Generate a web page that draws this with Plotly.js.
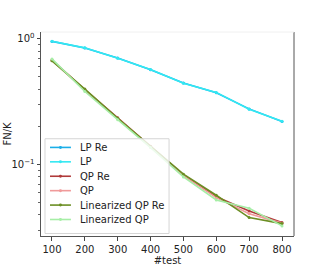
<!DOCTYPE html>
<html>
<head>
<meta charset="utf-8">
<script src="https://cdn.plot.ly/plotly-3.0.1.min.js"></script>
<style>html,body{margin:0;padding:0;background:#fff;}#chart{width:327px;height:266px;}</style>
</head>
<body>
<div id="chart"></div>
<script>
const tests = [100, 200, 300, 400, 500, 600, 700, 800];
const lpRe = [0.957, 0.848, 0.706, 0.570, 0.447, 0.373, 0.278, 0.221];
const lp = [0.960, 0.850, 0.702, 0.573, 0.445, 0.376, 0.276, 0.222];
const qpRe = [0.680, 0.396, 0.236, 0.140, 0.083, 0.0557, 0.0428, 0.0347];
const qp = [0.675, 0.392, 0.232, 0.138, 0.082, 0.0547, 0.0408, 0.0343];
const linQpRe = [0.670, 0.400, 0.234, 0.139, 0.084, 0.0572, 0.0380, 0.0340];
const linQp = [0.694, 0.382, 0.228, 0.137, 0.080, 0.0524, 0.0450, 0.0326];

const seriesNames = ["LP Re", "LP", "QP Re", "QP", "Linearized QP Re", "Linearized QP"];
const seriesData = [lpRe, lp, qpRe, qp, linQpRe, linQp];
const seriesColors = ["#1aaee8", "#33e8f2", "#b03a3a", "#f09a9a", "#6b8e23", "#a6eea6"];

const yMajor = [0.1, 1];
const yMajorText = ["10<sup>−1</sup>", "10<sup>0</sup>"];
const yMinor = [0.03, 0.04, 0.05, 0.06, 0.07, 0.08, 0.09, 0.2, 0.3, 0.4, 0.5, 0.6, 0.7, 0.8, 0.9];

const W = 327, H = 266;
const M = {l: 41, r: 32.5, t: 32, b: 29.5};
const PW = W - M.l - M.r, PH = H - M.t - M.b;
const px = x => (x - M.l) / PW;
const py = y => (H - M.b - y) / PH;

const traces = seriesNames.map((n, i) => ({
  type: "scatter", mode: "lines+markers", name: n,
  x: tests, y: seriesData[i], showlegend: false,
  line: {color: seriesColors[i], width: 1.6},
  marker: {color: seriesColors[i], size: 3}
}));

const font = {family: "DejaVu Sans", size: 10, color: "#222"};

// hand-built legend (matplotlib-like compact rows)
const shapes = [
  {type: "line", xref: "paper", yref: "paper", x0: 1, x1: 1, y0: 0, y1: 1, line: {color: "#555", width: 1}},
  {type: "line", xref: "paper", yref: "paper", x0: 0, x1: 1, y0: 1, y1: 1, line: {color: "#f0f0f0", width: 1}},
  {type: "rect", xref: "paper", yref: "paper", x0: px(45), x1: px(169.3), y0: py(234), y1: py(139),
   fillcolor: "rgba(255,255,255,0.8)", line: {color: "#d6d6d6", width: 1}}
];
const annotations = [];
seriesNames.forEach((n, i) => {
  const yy = 147.7 + i * 14.45;
  shapes.push({type: "line", xref: "paper", yref: "paper", x0: px(50), x1: px(71), y0: py(yy), y1: py(yy),
    line: {color: seriesColors[i], width: 1.6}});
  shapes.push({type: "circle", xref: "paper", yref: "paper", x0: px(59), x1: px(62), y0: py(yy + 1.5), y1: py(yy - 1.5),
    fillcolor: seriesColors[i], line: {width: 0}});
  annotations.push({xref: "paper", yref: "paper", x: px(78), y: py(yy), xanchor: "left", yanchor: "middle",
    text: n, showarrow: false, font: font});
});

const layout = {
  width: W, height: H,
  margin: M,
  paper_bgcolor: "#fff", plot_bgcolor: "#fff",
  font: font,
  showlegend: false,
  xaxis: {range: [66.6, 836.5], tickvals: tests, ticks: "outside", ticklen: 3.5, automargin: false,
    tickcolor: "#444", showline: true, linecolor: "#555", linewidth: 1,
    showgrid: false, zeroline: false,
    title: {text: "#test", font: font, standoff: 1}},
  yaxis: {type: "log", range: [-1.567, 0.0556], tickmode: "array", tickvals: yMajor, automargin: false,
    ticktext: yMajorText, ticks: "outside", ticklen: 3.5, tickcolor: "#444",
    showline: true, linecolor: "#555", linewidth: 1, showgrid: false, zeroline: false,
    minor: {tickmode: "array", tickvals: yMinor, ticks: "outside", ticklen: 2, tickcolor: "#666", showgrid: false},
    title: {text: "FN/K", font: font}},
  shapes: shapes,
  annotations: annotations
};
Plotly.newPlot("chart", traces, layout, {displayModeBar: false, staticPlot: true});
</script>
</body>
</html>
